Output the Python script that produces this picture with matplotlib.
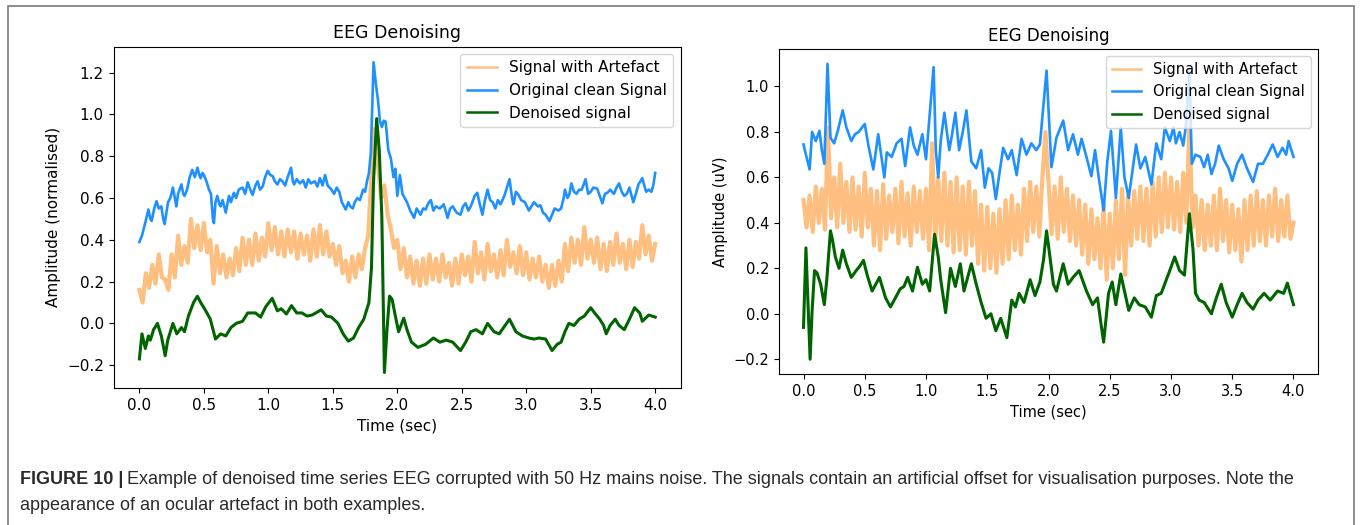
import numpy as np
import matplotlib

matplotlib.use("Agg")
import matplotlib.pyplot as plt
from matplotlib.patches import Rectangle

# ---- left panel (normalised) ----
l_clean_t = [0.00, 0.02, 0.045, 0.07, 0.085, 0.095, 0.115, 0.133, 0.15, 0.17, 0.185, 0.196, 0.21, 0.222, 0.24,
             0.26, 0.275, 0.286, 0.30, 0.326, 0.34, 0.35, 0.37, 0.39, 0.41, 0.43, 0.45, 0.465, 0.475, 0.49,
             0.50, 0.52, 0.54, 0.555, 0.57, 0.578, 0.59, 0.604, 0.62, 0.63, 0.645, 0.67, 0.685, 0.695, 0.71,
             0.733, 0.75, 0.77, 0.80, 0.82, 0.84, 0.86, 0.878, 0.90, 0.917, 0.935, 0.956, 0.975, 0.995, 1.015,
             1.034, 1.05, 1.07, 1.09, 1.11, 1.13, 1.15, 1.176, 1.19, 1.20, 1.22, 1.245, 1.27, 1.29, 1.31,
             1.33, 1.36, 1.38, 1.40, 1.42, 1.44, 1.46, 1.475, 1.49, 1.51, 1.53, 1.55, 1.57, 1.60, 1.62,
             1.635, 1.655, 1.67, 1.69, 1.71, 1.735, 1.75, 1.765, 1.78, 1.795, 1.816, 1.835, 1.85, 1.865, 1.88,
             1.895, 1.91, 1.93, 1.95, 1.97, 1.985, 2.00, 2.02, 2.04, 2.075, 2.10, 2.13, 2.15, 2.18, 2.20,
             2.22, 2.24, 2.26, 2.28, 2.30, 2.33, 2.36, 2.39, 2.41, 2.43, 2.46, 2.49, 2.51, 2.53, 2.55,
             2.57, 2.60, 2.62, 2.64, 2.66, 2.68, 2.70, 2.72, 2.74, 2.76, 2.78, 2.80, 2.83, 2.87, 2.89,
             2.90, 2.92, 2.94, 2.96, 2.99, 3.02, 3.04, 3.06, 3.09, 3.11, 3.13, 3.15, 3.18, 3.20, 3.22,
             3.25, 3.27, 3.29, 3.30, 3.32, 3.335, 3.35, 3.37, 3.39, 3.41, 3.43, 3.46, 3.48, 3.50, 3.52,
             3.55, 3.57, 3.59, 3.61, 3.63, 3.65, 3.68, 3.70, 3.72, 3.74, 3.76, 3.78, 3.80, 3.83, 3.85,
             3.87, 3.90, 3.915, 3.93, 3.95, 3.97, 3.985, 4.00]
l_clean_v = [0.39, 0.42, 0.48, 0.545, 0.50, 0.49, 0.55, 0.585, 0.55, 0.56, 0.50, 0.475, 0.53, 0.58, 0.60,
             0.65, 0.60, 0.56, 0.62, 0.665, 0.62, 0.61, 0.64, 0.70, 0.735, 0.70, 0.745, 0.71, 0.695, 0.72,
             0.71, 0.68, 0.64, 0.62, 0.50, 0.48, 0.58, 0.61, 0.57, 0.56, 0.59, 0.53, 0.58, 0.61, 0.58,
             0.625, 0.60, 0.64, 0.65, 0.62, 0.675, 0.64, 0.615, 0.66, 0.68, 0.64, 0.655, 0.70, 0.73, 0.71,
             0.705, 0.68, 0.665, 0.69, 0.68, 0.66, 0.70, 0.745, 0.68, 0.665, 0.69, 0.67, 0.685, 0.65, 0.69,
             0.67, 0.68, 0.655, 0.695, 0.66, 0.71, 0.66, 0.65, 0.64, 0.62, 0.65, 0.63, 0.58, 0.545, 0.58,
             0.56, 0.55, 0.58, 0.60, 0.59, 0.64, 0.63, 0.68, 0.72, 0.82, 1.25, 1.14, 1.07, 0.97, 0.94,
             0.97, 0.965, 0.83, 0.79, 0.70, 0.74, 0.61, 0.71, 0.62, 0.58, 0.54, 0.505, 0.55, 0.52, 0.55,
             0.545, 0.575, 0.59, 0.54, 0.56, 0.55, 0.57, 0.505, 0.55, 0.56, 0.53, 0.52, 0.56, 0.575, 0.54,
             0.56, 0.61, 0.625, 0.57, 0.52, 0.59, 0.64, 0.59, 0.58, 0.55, 0.59, 0.57, 0.61, 0.69, 0.60,
             0.57, 0.63, 0.615, 0.59, 0.58, 0.54, 0.56, 0.58, 0.56, 0.565, 0.53, 0.52, 0.49, 0.52, 0.55,
             0.54, 0.55, 0.60, 0.64, 0.60, 0.62, 0.67, 0.63, 0.62, 0.64, 0.64, 0.69, 0.62, 0.63, 0.65,
             0.645, 0.61, 0.575, 0.62, 0.625, 0.64, 0.62, 0.65, 0.67, 0.63, 0.61, 0.62, 0.65, 0.58, 0.62,
             0.665, 0.695, 0.66, 0.63, 0.64, 0.63, 0.66, 0.72]

l_denoised_t = [0.00, 0.02, 0.046, 0.07, 0.085, 0.11, 0.14, 0.17, 0.20, 0.22, 0.26, 0.29, 0.326, 0.35, 0.38,
                0.42, 0.45, 0.475, 0.51, 0.55, 0.59, 0.63, 0.67, 0.71, 0.75, 0.80, 0.84, 0.90, 0.94, 0.98,
                1.03, 1.07, 1.10, 1.14, 1.18, 1.22, 1.26, 1.30, 1.34, 1.41, 1.45, 1.49, 1.54, 1.58, 1.62,
                1.66, 1.70, 1.74, 1.78, 1.80, 1.815, 1.84, 1.86, 1.88, 1.90, 1.92, 1.94, 1.96, 1.98, 2.01,
                2.05, 2.075, 2.11, 2.16, 2.22, 2.28, 2.33, 2.38, 2.43, 2.49, 2.53, 2.57, 2.61, 2.66, 2.70,
                2.75, 2.79, 2.87, 2.92, 2.97, 3.02, 3.06, 3.10, 3.15, 3.20, 3.24, 3.27, 3.30, 3.33, 3.37,
                3.41, 3.45, 3.50, 3.53, 3.57, 3.60, 3.62, 3.65, 3.69, 3.72, 3.76, 3.80, 3.84, 3.88, 3.90,
                3.95, 4.00]
l_denoised_v = [-0.17, -0.05, -0.12, -0.06, -0.08, -0.03, 0.00, -0.06, -0.155, -0.08, 0.00, -0.05, -0.02, -0.04, 0.035,
                0.10, 0.13, 0.10, 0.065, 0.02, -0.075, -0.05, -0.06, -0.02, 0.00, 0.01, 0.05, 0.05, 0.03, 0.08,
                0.12, 0.06, 0.07, 0.045, 0.085, 0.05, 0.05, 0.035, 0.04, 0.065, 0.035, 0.03, 0.00, -0.05, -0.085,
                -0.07, -0.02, 0.02, 0.10, 0.27, 0.67, 0.98, 0.83, 0.51, -0.235, -0.03, 0.13, 0.115, 0.05, -0.04,
                0.025, -0.03, -0.09, -0.115, -0.10, -0.07, -0.09, -0.08, -0.09, -0.13, -0.09, -0.04, -0.03, -0.05, 0.00,
                -0.04, -0.05, 0.02, -0.04, -0.06, -0.07, -0.075, -0.07, -0.075, -0.13, -0.10, -0.09, -0.04, 0.00, -0.01,
                0.02, 0.035, 0.075, 0.05, 0.02, -0.01, -0.05, -0.01, 0.02, -0.01, -0.03, 0.02, 0.075, 0.05, 0.01,
                0.04, 0.03]

# 50 Hz corrupted signal, sampled evenly over 0-4 s
l_artefact_v = [0.16, 0.10, 0.24, 0.17, 0.28, 0.19, 0.33, 0.22,
                0.21, 0.16, 0.33, 0.22, 0.42, 0.28, 0.37, 0.29,
                0.50, 0.36, 0.47, 0.35, 0.48, 0.34, 0.40, 0.19,
                0.37, 0.24, 0.33, 0.22, 0.31, 0.23, 0.36, 0.25,
                0.41, 0.28, 0.40, 0.28, 0.43, 0.30, 0.41, 0.32,
                0.48, 0.35, 0.46, 0.33, 0.44, 0.32, 0.45, 0.34,
                0.44, 0.31, 0.43, 0.33, 0.42, 0.30, 0.45, 0.32,
                0.47, 0.33, 0.44, 0.32, 0.38, 0.28, 0.37, 0.24,
                0.30, 0.20, 0.32, 0.22, 0.33, 0.26, 0.36, 0.42,
                0.72, 0.93, 0.76, 0.60, 0.66, 0.52, 0.45, 0.36,
                0.40, 0.26, 0.36, 0.22, 0.32, 0.19, 0.30, 0.18,
                0.31, 0.19, 0.33, 0.21, 0.31, 0.20, 0.33, 0.22,
                0.29, 0.18, 0.31, 0.19, 0.33, 0.23, 0.32, 0.20,
                0.39, 0.24, 0.34, 0.21, 0.38, 0.25, 0.33, 0.22,
                0.35, 0.23, 0.40, 0.27, 0.34, 0.24, 0.37, 0.23,
                0.34, 0.21, 0.31, 0.22, 0.32, 0.20, 0.28, 0.17,
                0.28, 0.18, 0.30, 0.20, 0.38, 0.25, 0.41, 0.29,
                0.40, 0.28, 0.46, 0.31, 0.40, 0.29, 0.41, 0.26,
                0.38, 0.25, 0.39, 0.28, 0.43, 0.29, 0.38, 0.26,
                0.40, 0.27, 0.39, 0.31, 0.47, 0.33, 0.42, 0.30,
                0.38]

# ---- right panel (uV) ----
r_clean_t = [0.00, 0.02, 0.05, 0.07, 0.10, 0.13, 0.15, 0.17, 0.196, 0.22, 0.25, 0.28, 0.32, 0.35, 0.39,
             0.42, 0.45, 0.50, 0.53, 0.57, 0.61, 0.66, 0.68, 0.72, 0.76, 0.80, 0.83, 0.87, 0.90, 0.93,
             0.97, 1.00, 1.062, 1.08, 1.10, 1.12, 1.15, 1.19, 1.21, 1.24, 1.27, 1.30, 1.33, 1.37, 1.41,
             1.45, 1.48, 1.51, 1.54, 1.57, 1.60, 1.63, 1.67, 1.70, 1.74, 1.78, 1.82, 1.86, 1.90, 1.93,
             1.984, 2.024, 2.065, 2.12, 2.16, 2.20, 2.24, 2.27, 2.31, 2.35, 2.38, 2.41, 2.45, 2.48, 2.51,
             2.55, 2.59, 2.62, 2.655, 2.715, 2.75, 2.79, 2.84, 2.88, 2.92, 2.95, 2.99, 3.02, 3.04, 3.07,
             3.10, 3.12, 3.15, 3.17, 3.20, 3.24, 3.27, 3.30, 3.33, 3.36, 3.39, 3.43, 3.47, 3.50, 3.54,
             3.58, 3.62, 3.67, 3.71, 3.75, 3.79, 3.83, 3.87, 3.91, 3.94, 3.96, 4.00]
r_clean_v = [0.745, 0.70, 0.635, 0.80, 0.76, 0.805, 0.72, 0.66, 1.10, 0.775, 0.75, 0.805, 0.895, 0.82, 0.76,
             0.79, 0.80, 0.835, 0.74, 0.635, 0.79, 0.60, 0.71, 0.69, 0.75, 0.77, 0.65, 0.82, 0.74, 0.70,
             0.79, 0.68, 1.085, 0.72, 0.60, 0.76, 0.885, 0.72, 0.78, 0.885, 0.72, 0.80, 0.895, 0.67, 0.64,
             0.72, 0.555, 0.64, 0.62, 0.505, 0.62, 0.73, 0.68, 0.72, 0.61, 0.77, 0.70, 0.75, 0.72, 0.745,
             1.07, 0.645, 0.775, 0.85, 0.72, 0.79, 0.70, 0.77, 0.69, 0.605, 0.72, 0.60, 0.455, 0.67, 0.805,
             0.51, 0.82, 0.60, 0.51, 0.745, 0.64, 0.69, 0.57, 0.75, 0.68, 0.82, 0.76, 0.82, 0.75, 0.80,
             0.74, 0.82, 1.07, 0.66, 0.70, 0.69, 0.645, 0.70, 0.615, 0.66, 0.74, 0.68, 0.64, 0.585, 0.66,
             0.70, 0.64, 0.58, 0.66, 0.66, 0.70, 0.745, 0.69, 0.73, 0.70, 0.76, 0.69]

r_denoised_t = [0.00, 0.02, 0.035, 0.054, 0.07, 0.09, 0.11, 0.14, 0.17, 0.19, 0.22, 0.235, 0.26, 0.29, 0.32,
                0.35, 0.39, 0.43, 0.46, 0.49, 0.52, 0.56, 0.59, 0.62, 0.67, 0.71, 0.75, 0.79, 0.82, 0.85,
                0.89, 0.93, 0.97, 1.00, 1.03, 1.07, 1.10, 1.12, 1.16, 1.20, 1.24, 1.28, 1.31, 1.34, 1.37,
                1.41, 1.45, 1.49, 1.53, 1.57, 1.61, 1.66, 1.70, 1.73, 1.76, 1.80, 1.85, 1.89, 1.93, 1.96,
                1.984, 2.00, 2.04, 2.065, 2.12, 2.16, 2.20, 2.25, 2.31, 2.36, 2.40, 2.43, 2.45, 2.47, 2.49,
                2.52, 2.55, 2.59, 2.62, 2.655, 2.70, 2.74, 2.79, 2.84, 2.88, 2.92, 2.99, 3.03, 3.07, 3.11,
                3.15, 3.18, 3.20, 3.23, 3.27, 3.33, 3.37, 3.41, 3.45, 3.50, 3.54, 3.58, 3.62, 3.67, 3.71,
                3.76, 3.81, 3.87, 3.92, 3.95, 4.00]
r_denoised_v = [-0.06, 0.29, 0.07, -0.20, 0.01, 0.19, 0.18, 0.13, 0.04, 0.15, 0.365, 0.33, 0.25, 0.20, 0.28,
                0.22, 0.16, 0.19, 0.21, 0.235, 0.17, 0.10, 0.13, 0.16, 0.07, 0.03, 0.07, 0.11, 0.12, 0.16,
                0.10, 0.205, 0.13, 0.15, 0.10, 0.35, 0.25, 0.15, 0.005, 0.20, 0.12, 0.22, 0.10, 0.16, 0.22,
                0.13, 0.05, -0.02, 0.00, -0.075, -0.02, -0.105, 0.06, 0.03, 0.09, 0.05, 0.15, 0.08, 0.14, 0.24,
                0.365, 0.30, 0.13, 0.10, 0.22, 0.13, 0.16, 0.19, 0.10, 0.04, 0.07, -0.05, -0.125, -0.02, 0.09,
                0.14, 0.04, 0.175, 0.10, 0.015, 0.07, 0.04, 0.03, -0.015, 0.08, 0.09, 0.19, 0.25, 0.19, 0.17,
                0.44, 0.28, 0.09, 0.06, 0.05, 0.00, 0.07, 0.13, 0.05, -0.015, 0.04, 0.09, 0.05, 0.02, 0.06,
                0.09, 0.06, 0.10, 0.09, 0.135, 0.04]

r_artefact_v = [0.50, 0.38, 0.52, 0.36, 0.56, 0.40, 0.55, 0.37,
                0.82, 0.42, 0.60, 0.38, 0.66, 0.40, 0.58, 0.36,
                0.60, 0.37, 0.56, 0.34, 0.62, 0.38, 0.55, 0.30,
                0.54, 0.28, 0.57, 0.33, 0.52, 0.36, 0.55, 0.31,
                0.58, 0.34, 0.53, 0.30, 0.56, 0.36, 0.54, 0.33,
                0.55, 0.28, 0.75, 0.30, 0.60, 0.32, 0.62, 0.30,
                0.58, 0.27, 0.60, 0.28, 0.56, 0.26, 0.58, 0.30,
                0.54, 0.22, 0.48, 0.19, 0.47, 0.20, 0.44, 0.18,
                0.46, 0.22, 0.50, 0.24, 0.52, 0.28, 0.48, 0.26,
                0.55, 0.32, 0.58, 0.36, 0.56, 0.34, 0.60, 0.80,
                0.58, 0.35, 0.56, 0.33, 0.60, 0.36, 0.55, 0.32,
                0.52, 0.30, 0.50, 0.26, 0.48, 0.22, 0.46, 0.24,
                0.42, 0.20, 0.48, 0.15, 0.44, 0.20, 0.50, 0.24,
                0.55, 0.17, 0.52, 0.30, 0.54, 0.33, 0.56, 0.32,
                0.55, 0.30, 0.58, 0.34, 0.60, 0.36, 0.62, 0.38,
                0.60, 0.37, 0.58, 0.36, 0.62, 0.40, 0.85, 0.38,
                0.52, 0.30, 0.50, 0.28, 0.48, 0.30, 0.52, 0.28,
                0.55, 0.32, 0.50, 0.27, 0.48, 0.28, 0.46, 0.23,
                0.50, 0.28, 0.52, 0.30, 0.54, 0.32, 0.50, 0.30,
                0.52, 0.34, 0.55, 0.32, 0.50, 0.34, 0.52, 0.33,
                0.40]

labels = ["Signal with Artefact", "Original clean Signal", "Denoised signal"]
caption_bold = "FIGURE 10 |"
caption_1 = ("Example of denoised time series EEG corrupted with 50 Hz mains noise. The signals contain "
             "an artificial offset for visualisation purposes. Note the")
caption_2 = "appearance of an ocular artefact in both examples."

c_art, c_clean, c_den = "#ffbf80", "dodgerblue", "darkgreen"

fig = plt.figure(figsize=(13.6, 5.25), dpi=100)
ax1 = fig.add_axes([113.6 / 1360, 1 - 388 / 525, (681 - 113.6) / 1360, (388 - 46.7) / 525])
ax2 = fig.add_axes([779 / 1360, 1 - 374 / 525, (1318 - 779) / 1360, (374 - 49) / 525])


def panel(ax, art_v, clean_t, clean_v, den_t, den_v, ylabel, fs):
    ax.plot(np.linspace(0, 4, len(art_v)), art_v, color=c_art, lw=3.0, label=labels[0])
    ax.plot(clean_t, clean_v, color=c_clean, lw=1.9, label=labels[1])
    ax.plot(den_t, den_v, color=c_den, lw=2.2, label=labels[2])
    ax.set_xticks(np.arange(0, 4.01, 0.5))
    ax.set_title("EEG Denoising", fontsize=fs + 1.5)
    ax.set_xlabel("Time (sec)", fontsize=fs)
    ax.set_ylabel(ylabel, fontsize=fs)
    ax.tick_params(labelsize=fs)
    leg = ax.legend(loc="upper right", fontsize=fs)
    for h in leg.get_lines():
        h.set_linewidth(1.8)


panel(ax1, l_artefact_v, l_clean_t, l_clean_v, l_denoised_t, l_denoised_v, "Amplitude (normalised)", 11)
panel(ax2, r_artefact_v, r_clean_t, r_clean_v, r_denoised_t, r_denoised_v, "Amplitude (uV)", 10.5)
ax2.set_yticks(np.arange(-0.2, 1.01, 0.2))

# figure frame and caption
fig.add_artist(Rectangle((8 / 1360, -0.05), (1354 - 8) / 1360, 1.05 - 6 / 525, transform=fig.transFigure,
                         fill=False, edgecolor="#7a7a7a", lw=1.2))
cap_font = ["Liberation Sans", "DejaVu Sans"]
cap_col = "#2b2b2b"
y1 = 1 - 480 / 525
y2 = 1 - 506 / 525
tb = fig.text(20 / 1360, y1, caption_bold, fontsize=13, fontweight="bold", family=cap_font,
              va="center", color=cap_col)
fig.canvas.draw()
x_next = fig.transFigure.inverted().transform(tb.get_window_extent().get_points())[1, 0]
fig.text(x_next + 4 / 1360, y1, caption_1, fontsize=13, family=cap_font, va="center", color=cap_col)
fig.text(20 / 1360, y2, caption_2, fontsize=13, family=cap_font, va="center", color=cap_col)

fig.savefig("out.png", dpi=100)
